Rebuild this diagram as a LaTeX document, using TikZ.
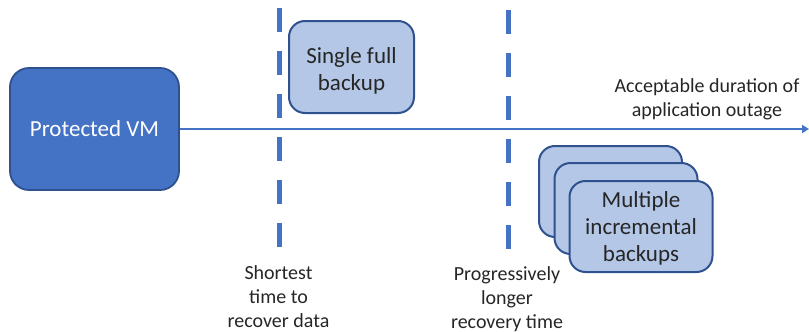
\documentclass[tikz,border=0pt]{standalone}
\usepackage{fontspec}
\setmainfont{Carlito}
\usetikzlibrary{arrows.meta}
\definecolor{accent}{HTML}{4472C4}
\definecolor{edge}{HTML}{2F528F}
\definecolor{light}{HTML}{B4C7E7}
\definecolor{txt}{HTML}{262626}
\tikzset{
  vmbox/.style={draw=edge, fill=accent, line width=1.8pt, rounded corners=19pt,
    minimum width=169pt, minimum height=122pt, inner sep=0pt, text=white,
    font=\fontsize{23}{27}\selectfont},
  bkbox/.style={draw=edge, fill=light, line width=2pt, rounded corners=16pt,
    minimum width=#1, minimum height=91pt, inner sep=0pt},
  bktext/.style={text=txt, align=center, inner sep=0pt, font=\fontsize{23}{27}\selectfont},
  lbl/.style={text=txt, align=center, inner sep=0pt, font=\fontsize{20}{24}\selectfont},
  divider/.style={draw=accent, line width=5pt, dash pattern=on 24pt off 19pt},
  timeline/.style={draw=accent, line width=2pt, -{Triangle[length=7pt,width=8pt]}}
}
\begin{document}
\begin{tikzpicture}[x=1pt,y=-1pt]
\useasboundingbox (0,0) rectangle (809,332);
% dashed dividers
\coordinate (d1top) at (279,8);
\coordinate (d1bot) at (279,247);
\coordinate (d2top) at (508,10);
\coordinate (d2bot) at (508,249);
\draw[divider] (d1top) -- (d1bot);
\draw[divider] (d2top) -- (d2bot);
% protected VM and timeline
\node[vmbox] (vm) at (94.5,129) {Protected VM};
\coordinate (tend) at (809,129);
\draw[timeline] (vm.east) -- (tend);
% single full backup
\node[bkbox=125pt, minimum height=92pt] (full) at (351.5,67) {};
\node[bktext] (fulltext) at (351.5,70.5) {Single full\\backup};
% incremental stack
\node[bkbox=143pt] (inc1) at (610.5,191.5) {};
\node[bkbox=143pt] (inc2) at (626,208.5) {};
\node[bkbox=143pt] (inc3) at (641,226.5) {};
\node[bktext] (inctext) at (641,228.5) {Multiple\\incremental\\backups};
% labels
\node[lbl] (outage) at (707,99) {Acceptable duration of\\application outage};
\node[lbl] (short) at (278.5,296.5) {Shortest\\time to\\recover data};
\node[lbl] (longer) at (507,299) {Progressively\\longer\\recovery time};
\end{tikzpicture}
\end{document}
